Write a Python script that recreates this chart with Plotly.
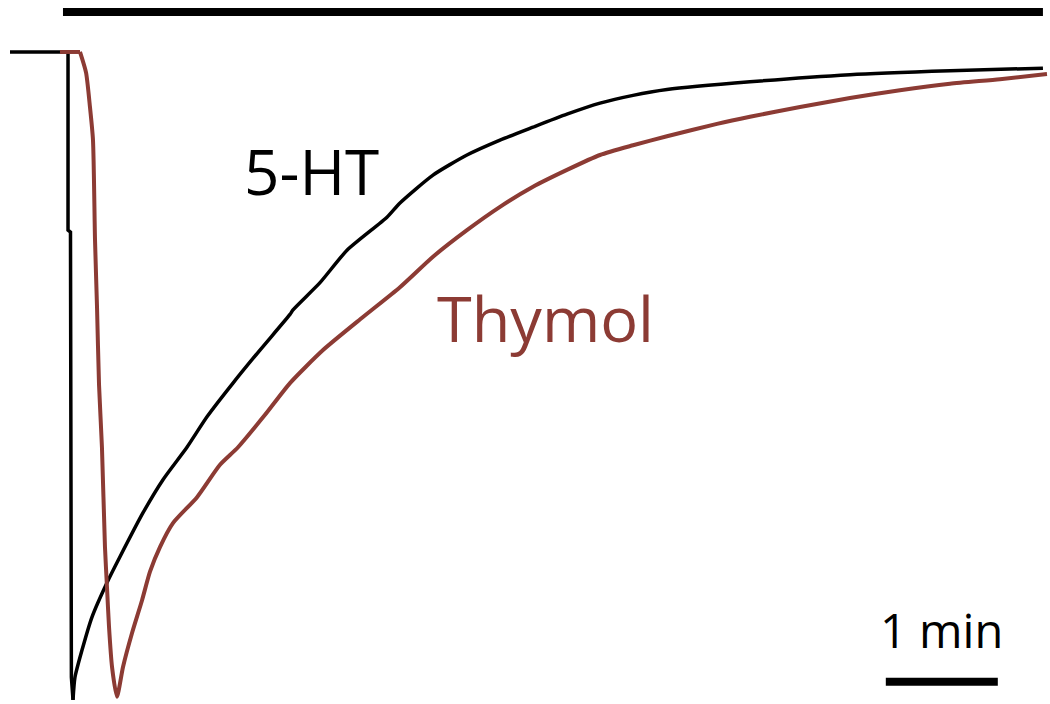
import plotly.graph_objects as go

# ---- data (time in min, current normalised to peak) ----
ht_time = [0.0, 0.518, 0.518, 0.54, 0.548, 0.5625, 0.58, 0.643, 0.732, 0.866, 0.982,
           1.188, 1.366, 1.580, 1.759, 1.991, 2.232, 2.500, 2.527, 2.768, 3.009, 3.366,
           3.482, 3.777, 4.080, 4.375, 4.670, 4.973, 5.268, 5.563, 5.866, 6.607, 7.5, 8.393, 9.223]
ht_current = [0.0, 0.0, -0.275, -0.278, -0.965, -1.0, -0.965, -0.923, -0.872, -0.819, -0.779,
              -0.711, -0.660, -0.610, -0.563, -0.511, -0.460, -0.405, -0.398, -0.356, -0.306, -0.255,
              -0.233, -0.190, -0.159, -0.136, -0.116, -0.096, -0.079, -0.067, -0.058, -0.046, -0.035,
              -0.029, -0.025]
ht_peak_index = 5

thy_time = [0.446, 0.625, 0.679, 0.714, 0.741, 0.759, 0.777, 0.795, 0.821, 0.848, 0.866,
            0.884, 0.911, 0.955, 1.009, 1.089, 1.179, 1.25, 1.339, 1.455, 1.670, 1.875,
            2.036, 2.277, 2.5, 2.795, 3.152, 3.482, 3.777, 4.080, 4.375, 4.670, 4.973,
            5.268, 5.563, 5.866, 6.313, 6.607, 7.054, 7.5, 7.946, 8.393, 8.839, 9.259]
thy_current = [0.0, 0.0, -0.032, -0.085, -0.136, -0.290, -0.394, -0.514, -0.610, -0.764, -0.826,
               -0.887, -0.949, -0.995, -0.949, -0.897, -0.846, -0.802, -0.764, -0.727, -0.687, -0.637,
               -0.610, -0.560, -0.511, -0.460, -0.409, -0.363, -0.316, -0.275, -0.239, -0.208, -0.182,
               -0.159, -0.144, -0.130, -0.111, -0.100, -0.085, -0.071, -0.059, -0.049, -0.042, -0.034]
thy_onset_index = 1

app_start, app_end, app_level = 0.473, 9.223, 0.0617      # drug application bar
scale_start, scale_len, scale_level = 7.82, 1.0, -0.972    # 1 min scale bar

labels = ["5-HT", "Thymol", "1 min"]

BLACK = "#000000"
BROWN = "#8C3B34"

fig = go.Figure()
# 5-HT: sharp onset (linear) then smooth recovery (spline)
fig.add_trace(go.Scatter(x=ht_time[:ht_peak_index + 1], y=ht_current[:ht_peak_index + 1],
                         mode="lines", line=dict(color=BLACK, width=3.5)))
fig.add_trace(go.Scatter(x=ht_time[ht_peak_index:], y=ht_current[ht_peak_index:], mode="lines",
                         line=dict(color=BLACK, width=3.5, shape="spline", smoothing=0.6),
                         name=labels[0]))
# Thymol: flat baseline then smooth response
fig.add_trace(go.Scatter(x=thy_time[:thy_onset_index + 1], y=thy_current[:thy_onset_index + 1],
                         mode="lines", line=dict(color=BROWN, width=4)))
fig.add_trace(go.Scatter(x=thy_time[thy_onset_index:], y=thy_current[thy_onset_index:], mode="lines",
                         line=dict(color=BROWN, width=4, shape="spline", smoothing=0.6),
                         name=labels[1]))
# application bar
fig.add_trace(go.Scatter(x=[app_start, app_end], y=[app_level, app_level], mode="lines",
                         line=dict(color=BLACK, width=8)))
# scale bar
fig.add_trace(go.Scatter(x=[scale_start, scale_start + scale_len], y=[scale_level, scale_level],
                         mode="lines", line=dict(color=BLACK, width=8)))

fig.add_annotation(x=2.696, y=-0.184, text=labels[0], showarrow=False,
                   font=dict(family="Open Sans", size=62, color=BLACK))
fig.add_annotation(x=4.777, y=-0.410, text=labels[1], showarrow=False,
                   font=dict(family="Open Sans", size=63, color=BROWN))
fig.add_annotation(x=8.32, y=-0.892, text=labels[2], showarrow=False,
                   font=dict(family="Open Sans", size=47, color=BLACK))

fig.update_layout(
    width=1050, height=704, autosize=False,
    margin=dict(l=0, r=0, t=0, b=0),
    paper_bgcolor="white", plot_bgcolor="white",
    showlegend=False,
    xaxis=dict(range=[-0.0893, 9.286], visible=False, fixedrange=True),
    yaxis=dict(range=[-1.0062, 0.0802], visible=False, fixedrange=True),
)

fig.write_html("out.html", config={"displayModeBar": False},
               post_script="document.body.style.margin='0';")
